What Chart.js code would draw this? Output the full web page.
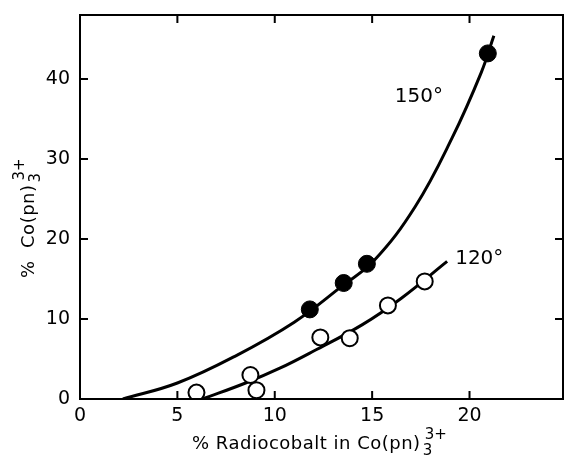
<!DOCTYPE html>
<html>
<head>
<meta charset="utf-8">
<script src="https://cdn.jsdelivr.net/npm/chart.js@4.4.1/dist/chart.umd.min.js"></script>
<style>
  html, body { margin: 0; padding: 0; background: #fff; overflow: hidden; }
  #wrap { width: 564px; height: 457px; }
</style>
</head>
<body>
<div id="wrap"><canvas id="chart"></canvas></div>
<script>
// smooth curves
const curve150X = [2.2, 5, 8, 11, 13.5, 15.1, 17.2, 19.1, 20.6, 21.25];
const curve150Y = [0, 2.0, 5.4, 9.6, 14.2, 17.3, 24.0, 32.6, 40.8, 45.4];
const curve120X = [6.3, 8.5, 10.26, 12, 14.5, 16.5, 18.85];
const curve120Y = [0, 2.0, 3.85, 6.0, 9.3, 12.6, 17.2];

// measured points
const pts150X = [11.8, 13.54, 14.73, 20.94];
const pts150Y = [11.2, 14.5, 16.9, 43.2];
const pts120X = [5.98, 8.75, 9.06, 12.34, 13.85, 15.81, 17.7];
const pts120Y = [0.8, 3.0, 1.1, 7.7, 7.6, 11.7, 14.7];

const xTicks = [0, 5, 10, 15, 20];
const yTicks = [0, 10, 20, 30, 40];
const xInnerTicks = [5, 10, 15, 20];
const yInnerTicks = [10, 20, 30, 40];

const curveLabels = [
    { text: '150°', x: 17.4, y: 37.8 },
    { text: '120°', x: 20.5, y: 17.5 }
];

const FONT = "'DejaVu Sans', sans-serif";

function toXY(xs, ys) {
    return xs.map((x, i) => ({ x: x, y: ys[i] }));
}

function noPad(s) {
    s.paddingLeft = 0; s.paddingRight = 0;
    s.paddingTop = 0; s.paddingBottom = 0;
}

const framePlugin = {
    id: 'frame',
    afterDraw(chart) {
        const { ctx, chartArea: a, scales } = chart;
        const xs = scales.x, ys = scales.y;
        ctx.save();
        ctx.strokeStyle = '#000';
        ctx.lineWidth = 2;
        ctx.strokeRect(a.left, a.top, a.right - a.left, a.bottom - a.top);

        // inward ticks on all four sides
        const len = 8;
        ctx.beginPath();
        xInnerTicks.forEach(v => {
            const px = xs.getPixelForValue(v);
            ctx.moveTo(px, a.bottom); ctx.lineTo(px, a.bottom - len);
            ctx.moveTo(px, a.top); ctx.lineTo(px, a.top + len);
        });
        yInnerTicks.forEach(v => {
            const py = ys.getPixelForValue(v);
            ctx.moveTo(a.left, py); ctx.lineTo(a.left + len, py);
            ctx.moveTo(a.right, py); ctx.lineTo(a.right - len, py);
        });
        ctx.stroke();

        // curve labels
        ctx.fillStyle = '#000';
        ctx.font = '20px ' + FONT;
        ctx.textAlign = 'center';
        ctx.textBaseline = 'middle';
        curveLabels.forEach(l => {
            ctx.fillText(l.text, xs.getPixelForValue(l.x), ys.getPixelForValue(l.y));
        });

        // x title with sub/superscript
        ctx.textAlign = 'left';
        ctx.textBaseline = 'alphabetic';
        drawFormula(ctx, '% Radiocobalt in Co(pn)', 192, 449);

        // y title, rotated
        ctx.save();
        ctx.translate(34, 278);
        ctx.rotate(-Math.PI / 2);
        drawFormula(ctx, '%  Co(pn)', 0, 0);
        ctx.restore();
        ctx.restore();
    }
};

function drawFormula(ctx, main, x, y) {
    ctx.font = '18px ' + FONT;
    ctx.letterSpacing = '0.5px';
    ctx.fillText(main, x, y);
    const w = ctx.measureText(main).width;
    ctx.font = '15px ' + FONT;
    ctx.letterSpacing = '0px';
    ctx.fillText('3', x + w + 2, y + 6);
    ctx.fillText('3+', x + w + 4, y - 10);
}

new Chart(document.getElementById('chart'), {
    type: 'scatter',
    data: {
        datasets: [
            {
                data: toXY(curve150X, curve150Y),
                showLine: true,
                borderColor: '#000',
                borderWidth: 3,
                pointRadius: 0,
                tension: 0.4,
                order: 2
            },
            {
                data: toXY(curve120X, curve120Y),
                showLine: true,
                borderColor: '#000',
                borderWidth: 3,
                pointRadius: 0,
                tension: 0.4,
                order: 2
            },
            {
                data: toXY(pts150X, pts150Y),
                pointRadius: 8.5,
                pointBackgroundColor: '#000',
                pointBorderColor: '#000',
                pointBorderWidth: 1,
                order: 1
            },
            {
                data: toXY(pts120X, pts120Y),
                pointRadius: 8,
                pointBackgroundColor: '#fff',
                pointBorderColor: '#000',
                pointBorderWidth: 2,
                order: 1
            }
        ]
    },
    options: {
        responsive: true,
        maintainAspectRatio: false,
        animation: false,
        events: [],
        layout: { autoPadding: false, padding: { top: 15, right: 1, left: 0, bottom: 0 } },
        plugins: {
            legend: { display: false },
            tooltip: { enabled: false }
        },
        scales: {
            x: {
                type: 'linear',
                min: 0,
                max: 24.8,
                afterBuildTicks: (s) => { s.ticks = xTicks.map(v => ({ value: v })); },
                afterFit: (s) => { s.height = 58; noPad(s); },
                grid: { display: false, drawTicks: false },
                border: { display: false },
                ticks: {
                    color: '#000',
                    padding: 6,
                    font: { family: FONT, size: 19 }
                }
            },
            y: {
                type: 'linear',
                min: 0,
                max: 48,
                afterBuildTicks: (s) => { s.ticks = yTicks.map(v => ({ value: v })); },
                afterFit: (s) => { s.width = 80; noPad(s); },
                grid: { display: false, drawTicks: false },
                border: { display: false },
                ticks: {
                    color: '#000',
                    padding: 10,
                    font: { family: FONT, size: 19 }
                }
            }
        }
    },
    plugins: [framePlugin]
});
</script>
</body>
</html>
